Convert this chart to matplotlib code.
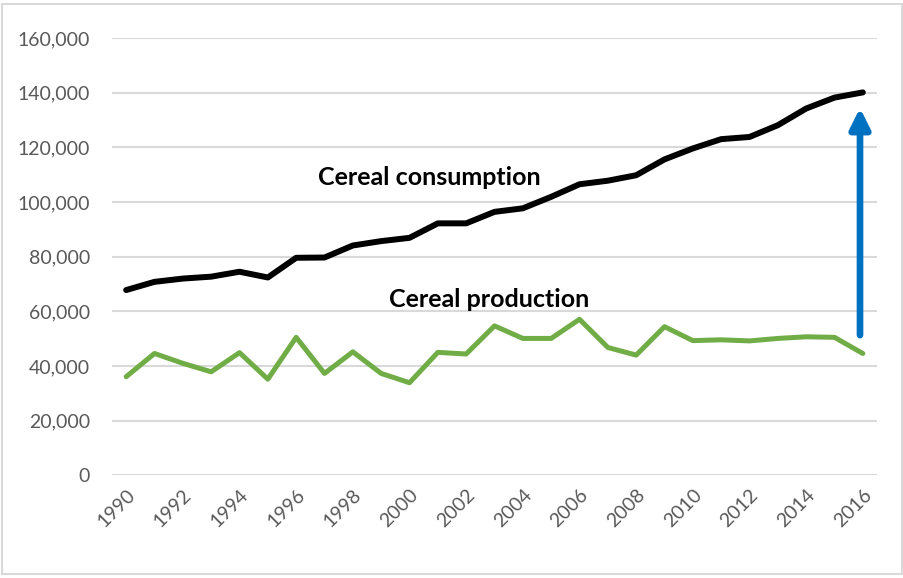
import numpy as np
import matplotlib
matplotlib.use("Agg")
import matplotlib.pyplot as plt
from matplotlib.patches import Rectangle
from matplotlib.ticker import FuncFormatter

plt.rcParams['font.family'] = ['Lato', 'DejaVu Sans']

years = list(range(1990, 2017))
consumption = [67800, 70800, 72000, 72700, 74500, 72400, 79600, 79700, 84100, 85700,
               86900, 92200, 92200, 96400, 97700, 101900, 106500, 107800, 109800, 115600,
               119600, 123000, 123800, 128100, 134200, 138200, 140100]
production = [36100, 44600, 41000, 37900, 44900, 35200, 50500, 37300, 45200, 37300,
              33900, 45000, 44400, 54700, 50100, 50100, 57100, 46800, 44000, 54400,
              49300, 49600, 49200, 50100, 50700, 50500, 44600]
y_ticks = [0, 20000, 40000, 60000, 80000, 100000, 120000, 140000, 160000]

# arrow showing the gap in the last year
arrow_from = 51300
arrow_to = 134400

fig = plt.figure(figsize=(9.04, 5.78), dpi=100)
fig.patches.append(Rectangle((0.002, 0.007), 0.996, 0.986, transform=fig.transFigure,
                             fill=False, edgecolor='#d9d9d9', linewidth=1.5))
ax = fig.add_axes([112 / 904, 1 - 475.4 / 578, 765 / 904, (475.4 - 38) / 578])

x = np.arange(len(years))
ax.plot(x, consumption, color='black', lw=4.3, solid_capstyle='round', zorder=3)
ax.plot(x, production, color='#70AD47', lw=3.6, solid_capstyle='round', zorder=3)

ax.annotate('', xy=(x[-1] - 0.1, arrow_to), xytext=(x[-1] - 0.1, arrow_from),
            arrowprops=dict(arrowstyle='-|>,head_width=0.6,head_length=1.2',
                            color='#0070C0', lw=4.8, shrinkA=0, shrinkB=0), zorder=4)

ax.text(10.7, 109000, 'Cereal consumption', fontsize=18, fontweight='bold',
        ha='center', va='center', color='black')
ax.text(12.8, 64200, 'Cereal production', fontsize=18, fontweight='bold',
        ha='center', va='center', color='black')

ax.set_xlim(-0.5, len(years) - 0.5)
ax.set_ylim(0, 160000)
ax.set_yticks(y_ticks)
ax.yaxis.set_major_formatter(FuncFormatter(lambda v, p: f'{int(v):,}'))
ax.set_xticks(x[::2])
ax.set_xticklabels([str(y) for y in years[::2]], rotation=45, ha='right',
                   rotation_mode='anchor')
ax.tick_params(axis='both', length=0, labelsize=14, labelcolor='#595959')
ax.tick_params(axis='y', pad=16)
ax.tick_params(axis='x', pad=8)
ax.grid(axis='y', color='#d9d9d9', lw=1.5)
ax.set_axisbelow(True)
for s in ax.spines.values():
    s.set_visible(False)

fig.savefig('out.png', dpi=100)
